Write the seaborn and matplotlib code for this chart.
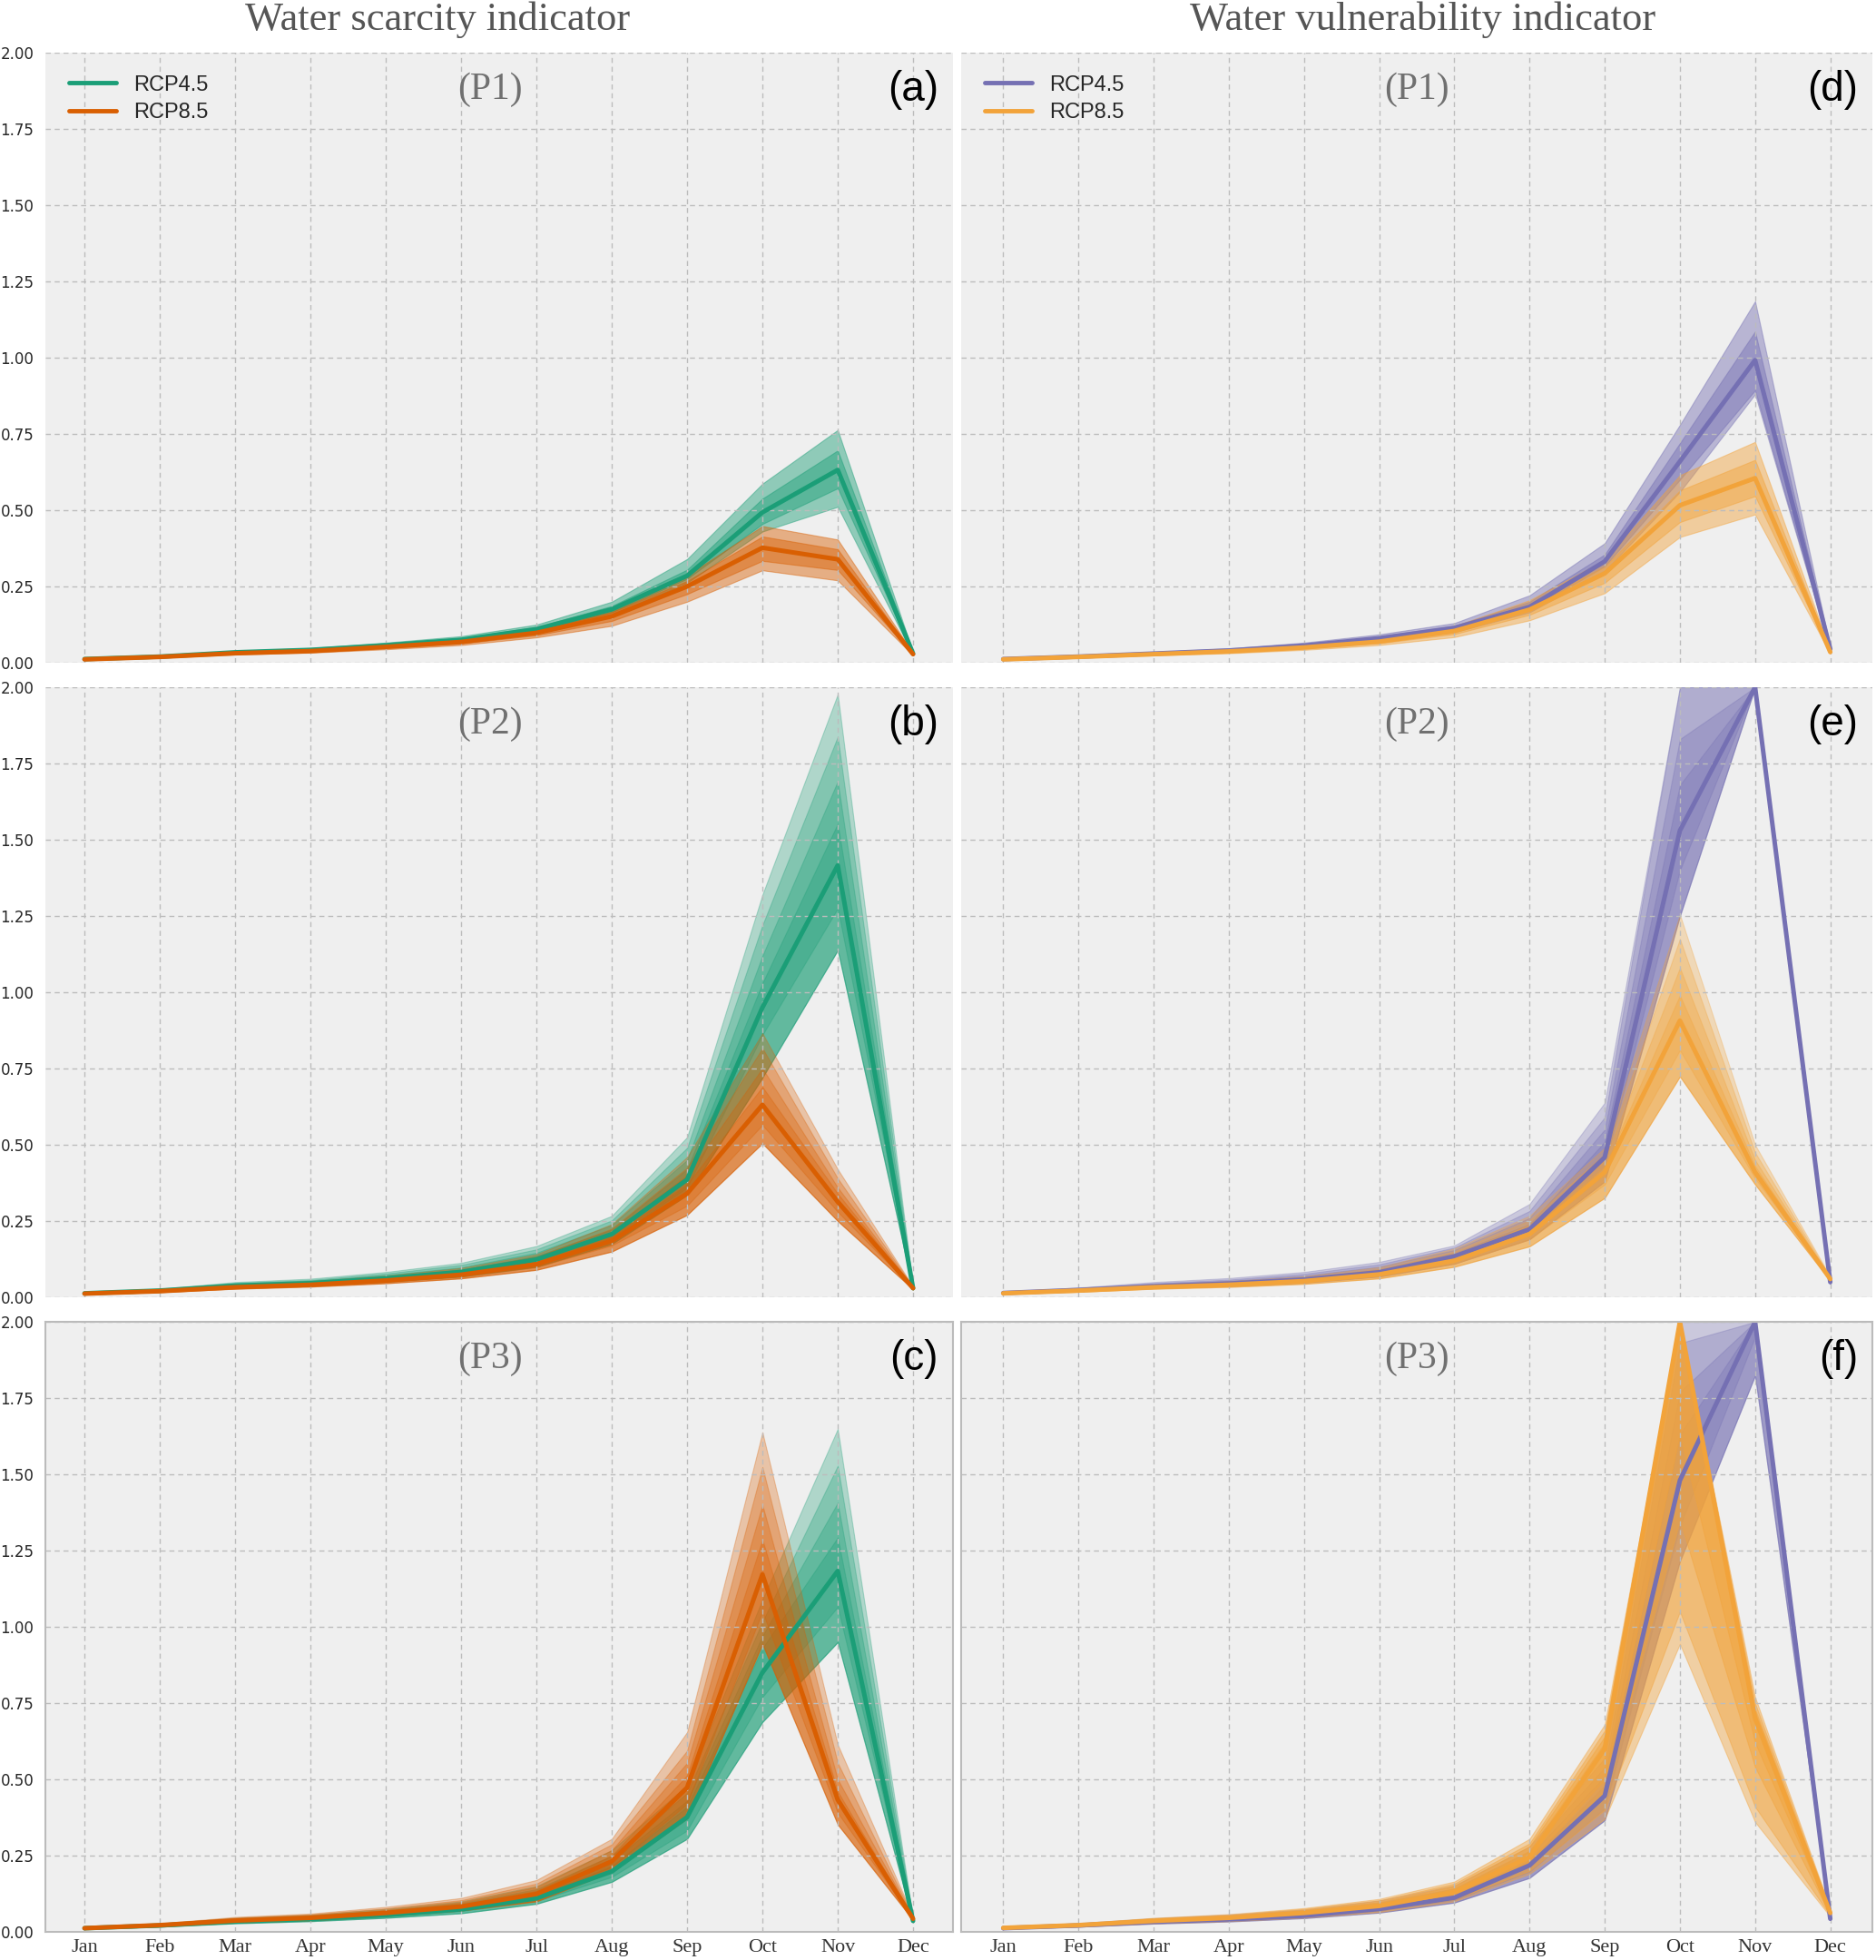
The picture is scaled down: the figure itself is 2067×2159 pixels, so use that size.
import numpy as np
import pandas as pd
import matplotlib
matplotlib.use('Agg')
import matplotlib.pyplot as plt
import seaborn as sns

months = ['Jan', 'Feb', 'Mar', 'Apr', 'May', 'Jun', 'Jul', 'Aug', 'Sep', 'Oct', 'Nov', 'Dec']
scenarios = ['RCP4.5', 'RCP8.5']

#-------------------- (a) scarcity, P1 --------------------
a45_med = [0.012, 0.020, 0.034, 0.042, 0.057, 0.075, 0.110, 0.175, 0.285, 0.493, 0.632, 0.030]
a45_lo = [[0.010, 0.018, 0.030, 0.037, 0.050, 0.066, 0.097, 0.155, 0.262, 0.430, 0.511, 0.026],
          [0.011, 0.019, 0.032, 0.040, 0.053, 0.071, 0.104, 0.166, 0.275, 0.455, 0.572, 0.028]]
a45_hi = [[0.014, 0.023, 0.039, 0.048, 0.066, 0.087, 0.125, 0.200, 0.340, 0.587, 0.763, 0.034],
          [0.013, 0.021, 0.036, 0.045, 0.061, 0.081, 0.117, 0.186, 0.305, 0.538, 0.696, 0.032]]
a85_med = [0.011, 0.019, 0.031, 0.038, 0.052, 0.068, 0.098, 0.152, 0.250, 0.377, 0.339, 0.028]
a85_lo = [[0.009, 0.016, 0.027, 0.033, 0.044, 0.058, 0.083, 0.121, 0.200, 0.303, 0.270, 0.024],
          [0.010, 0.018, 0.029, 0.036, 0.048, 0.063, 0.090, 0.137, 0.225, 0.334, 0.304, 0.026]]
a85_hi = [[0.013, 0.022, 0.036, 0.044, 0.060, 0.079, 0.115, 0.180, 0.286, 0.448, 0.404, 0.032],
          [0.012, 0.020, 0.033, 0.041, 0.056, 0.073, 0.106, 0.166, 0.268, 0.414, 0.372, 0.030]]

#-------------------- (b) scarcity, P2 --------------------
b45_med = [0.013, 0.022, 0.038, 0.046, 0.062, 0.083, 0.124, 0.207, 0.386, 0.950, 1.416, 0.030]
b45_lo_in = [0.012, 0.020, 0.034, 0.042, 0.056, 0.075, 0.112, 0.190, 0.360, 0.860, 1.275, 0.028]
b45_lo_out = [0.011, 0.018, 0.031, 0.038, 0.051, 0.068, 0.100, 0.175, 0.335, 0.720, 1.138, 0.026]
b45_hi = [[0.017, 0.028, 0.050, 0.061, 0.083, 0.113, 0.168, 0.267, 0.525, 1.320, 1.977, 0.035],
          [0.016, 0.027, 0.047, 0.057, 0.078, 0.106, 0.157, 0.252, 0.490, 1.220, 1.838, 0.034],
          [0.015, 0.025, 0.044, 0.054, 0.073, 0.098, 0.146, 0.237, 0.450, 1.120, 1.692, 0.033],
          [0.014, 0.024, 0.041, 0.050, 0.068, 0.091, 0.135, 0.222, 0.420, 1.030, 1.553, 0.032]]
b85_med = [0.012, 0.020, 0.033, 0.041, 0.055, 0.074, 0.108, 0.185, 0.340, 0.631, 0.313, 0.030]
b85_lo_in = [0.011, 0.019, 0.031, 0.038, 0.051, 0.068, 0.099, 0.170, 0.300, 0.565, 0.280, 0.028]
b85_lo_out = [0.010, 0.017, 0.028, 0.035, 0.046, 0.062, 0.090, 0.150, 0.270, 0.505, 0.250, 0.026]
b85_hi = [[0.016, 0.025, 0.042, 0.053, 0.071, 0.096, 0.141, 0.240, 0.460, 0.866, 0.420, 0.035],
          [0.015, 0.024, 0.040, 0.050, 0.067, 0.090, 0.133, 0.225, 0.425, 0.817, 0.390, 0.034],
          [0.014, 0.023, 0.038, 0.047, 0.063, 0.085, 0.125, 0.212, 0.400, 0.751, 0.360, 0.033],
          [0.013, 0.022, 0.036, 0.044, 0.059, 0.080, 0.117, 0.200, 0.370, 0.690, 0.340, 0.032]]

#-------------------- (c) scarcity, P3 --------------------
c45_med = [0.012, 0.021, 0.034, 0.042, 0.055, 0.074, 0.110, 0.198, 0.376, 0.850, 1.183, 0.036]
c45_lo_in = [0.011, 0.019, 0.031, 0.039, 0.051, 0.068, 0.101, 0.180, 0.332, 0.770, 1.065, 0.034]
c45_lo_out = [0.010, 0.017, 0.028, 0.035, 0.046, 0.061, 0.092, 0.164, 0.305, 0.688, 0.950, 0.032]
c45_hi = [[0.016, 0.027, 0.046, 0.056, 0.075, 0.100, 0.150, 0.268, 0.480, 1.090, 1.649, 0.044],
          [0.015, 0.026, 0.043, 0.053, 0.070, 0.094, 0.140, 0.250, 0.455, 1.017, 1.528, 0.042],
          [0.014, 0.024, 0.040, 0.049, 0.065, 0.087, 0.130, 0.232, 0.430, 0.970, 1.407, 0.040],
          [0.013, 0.023, 0.037, 0.046, 0.060, 0.081, 0.120, 0.215, 0.410, 0.930, 1.293, 0.038]]
c85_med = [0.012, 0.022, 0.037, 0.046, 0.062, 0.083, 0.124, 0.231, 0.473, 1.172, 0.433, 0.043]
c85_lo_in = [0.011, 0.020, 0.034, 0.042, 0.057, 0.076, 0.112, 0.213, 0.420, 1.050, 0.390, 0.041]
c85_lo_out = [0.010, 0.018, 0.031, 0.038, 0.052, 0.070, 0.100, 0.198, 0.372, 0.944, 0.352, 0.039]
c85_hi = [[0.016, 0.028, 0.049, 0.060, 0.082, 0.111, 0.170, 0.305, 0.655, 1.638, 0.614, 0.051],
          [0.015, 0.027, 0.046, 0.057, 0.077, 0.104, 0.158, 0.287, 0.594, 1.524, 0.554, 0.049],
          [0.014, 0.025, 0.043, 0.053, 0.072, 0.097, 0.147, 0.268, 0.554, 1.400, 0.500, 0.047],
          [0.013, 0.024, 0.040, 0.050, 0.067, 0.090, 0.135, 0.250, 0.513, 1.286, 0.460, 0.045]]

#-------------------- (d) vulnerability, P1 --------------------
d45_med = [0.012, 0.020, 0.030, 0.040, 0.056, 0.080, 0.114, 0.183, 0.332, 0.660, 0.992, 0.045]
d45_lo = [[0.010, 0.017, 0.026, 0.035, 0.048, 0.070, 0.100, 0.165, 0.300, 0.560, 0.880, 0.040],
          [0.011, 0.019, 0.028, 0.038, 0.052, 0.075, 0.107, 0.174, 0.316, 0.600, 0.893, 0.042]]
d45_hi = [[0.014, 0.023, 0.035, 0.047, 0.066, 0.093, 0.130, 0.221, 0.392, 0.780, 1.185, 0.050],
          [0.013, 0.021, 0.032, 0.043, 0.060, 0.086, 0.121, 0.200, 0.355, 0.720, 1.086, 0.048]]
d85_med = [0.011, 0.019, 0.028, 0.037, 0.050, 0.069, 0.104, 0.174, 0.293, 0.516, 0.605, 0.035]
d85_lo = [[0.009, 0.016, 0.024, 0.031, 0.042, 0.058, 0.084, 0.139, 0.228, 0.412, 0.486, 0.030],
          [0.010, 0.018, 0.026, 0.034, 0.046, 0.064, 0.094, 0.157, 0.262, 0.461, 0.546, 0.032]]
d85_hi = [[0.013, 0.022, 0.032, 0.042, 0.057, 0.080, 0.120, 0.205, 0.337, 0.615, 0.724, 0.040],
          [0.012, 0.020, 0.030, 0.040, 0.054, 0.074, 0.112, 0.190, 0.315, 0.565, 0.665, 0.038]]

#-------------------- (e) vulnerability, P2 --------------------
e45_med = [0.014, 0.024, 0.036, 0.045, 0.058, 0.082, 0.134, 0.223, 0.459, 1.530, 2.000, 0.050]
e45_lo_in = [0.013, 0.022, 0.033, 0.041, 0.053, 0.075, 0.122, 0.205, 0.430, 1.400, 2.000, 0.047]
e45_lo_out = [0.012, 0.020, 0.030, 0.037, 0.048, 0.068, 0.110, 0.190, 0.380, 1.250, 2.000, 0.044]
e45_hi = [[0.018, 0.032, 0.050, 0.063, 0.083, 0.116, 0.170, 0.306, 0.638, 2.000, 2.000, 0.060],
          [0.017, 0.030, 0.046, 0.058, 0.077, 0.108, 0.163, 0.283, 0.590, 2.000, 2.000, 0.057],
          [0.016, 0.028, 0.043, 0.054, 0.071, 0.100, 0.155, 0.260, 0.550, 1.830, 2.000, 0.055],
          [0.015, 0.026, 0.040, 0.050, 0.065, 0.092, 0.145, 0.240, 0.510, 1.680, 2.000, 0.053]]
e85_med = [0.013, 0.022, 0.033, 0.041, 0.053, 0.075, 0.120, 0.207, 0.410, 0.907, 0.410, 0.060]
e85_lo_in = [0.012, 0.020, 0.031, 0.038, 0.049, 0.069, 0.110, 0.190, 0.370, 0.810, 0.390, 0.057]
e85_lo_out = [0.011, 0.018, 0.028, 0.034, 0.044, 0.062, 0.100, 0.167, 0.326, 0.724, 0.370, 0.054]
e85_hi = [[0.017, 0.027, 0.041, 0.053, 0.069, 0.099, 0.160, 0.267, 0.490, 1.255, 0.500, 0.068],
          [0.016, 0.026, 0.039, 0.050, 0.065, 0.093, 0.150, 0.252, 0.470, 1.175, 0.475, 0.066],
          [0.015, 0.025, 0.037, 0.047, 0.061, 0.087, 0.140, 0.237, 0.450, 1.080, 0.450, 0.064],
          [0.014, 0.024, 0.035, 0.044, 0.057, 0.081, 0.130, 0.222, 0.430, 0.990, 0.430, 0.062]]

#-------------------- (f) vulnerability, P3 --------------------
f45_med = [0.012, 0.021, 0.033, 0.041, 0.053, 0.075, 0.112, 0.218, 0.446, 1.480, 2.000, 0.043]
f45_lo_in = [0.011, 0.019, 0.030, 0.038, 0.049, 0.069, 0.104, 0.197, 0.405, 1.330, 1.950, 0.041]
f45_lo_out = [0.010, 0.017, 0.027, 0.034, 0.045, 0.063, 0.096, 0.177, 0.366, 1.215, 1.824, 0.039]
f45_hi = [[0.016, 0.029, 0.045, 0.057, 0.073, 0.103, 0.152, 0.280, 0.570, 2.000, 2.000, 0.051],
          [0.015, 0.027, 0.042, 0.053, 0.068, 0.096, 0.142, 0.265, 0.540, 1.930, 2.000, 0.049],
          [0.014, 0.025, 0.039, 0.049, 0.063, 0.089, 0.132, 0.250, 0.510, 1.770, 2.000, 0.047],
          [0.013, 0.023, 0.036, 0.045, 0.058, 0.082, 0.122, 0.235, 0.480, 1.630, 2.000, 0.045]]
f85_med = [0.013, 0.022, 0.036, 0.046, 0.062, 0.085, 0.130, 0.245, 0.600, 2.000, 0.700, 0.062]
f85_lo = [[0.010, 0.017, 0.028, 0.035, 0.047, 0.065, 0.100, 0.190, 0.370, 0.944, 0.360, 0.050],
          [0.011, 0.018, 0.030, 0.038, 0.051, 0.070, 0.107, 0.200, 0.400, 1.050, 0.410, 0.053],
          [0.012, 0.020, 0.032, 0.041, 0.055, 0.075, 0.115, 0.215, 0.450, 1.350, 0.540, 0.056],
          [0.012, 0.021, 0.034, 0.043, 0.058, 0.080, 0.122, 0.230, 0.500, 1.630, 0.620, 0.059]]
f85_hi = [[0.017, 0.028, 0.046, 0.058, 0.078, 0.108, 0.165, 0.305, 0.680, 2.000, 0.770, 0.075],
          [0.016, 0.027, 0.044, 0.055, 0.075, 0.103, 0.158, 0.290, 0.660, 2.000, 0.750, 0.072],
          [0.015, 0.026, 0.042, 0.053, 0.071, 0.098, 0.150, 0.280, 0.640, 2.000, 0.730, 0.070],
          [0.014, 0.024, 0.040, 0.050, 0.068, 0.093, 0.142, 0.265, 0.620, 2.000, 0.720, 0.067]]

green, red = '#1b9e77', '#d95f02'
purple, orange = '#7570b3', '#f2a33a'

panels = [
    dict(col=0, row=0, tag='(a)', period='(P1)', colors=[green, red], alpha=[0.45, 0.45],
         med=[a45_med, a85_med], lo=[a45_lo, a85_lo], hi=[a45_hi, a85_hi]),
    dict(col=0, row=1, tag='(b)', period='(P2)', colors=[green, red], alpha=[0.3, 0.3],
         med=[b45_med, b85_med],
         lo=[[b45_lo_out] * 3 + [b45_lo_in], [b85_lo_out] * 3 + [b85_lo_in]],
         hi=[b45_hi, b85_hi]),
    dict(col=0, row=2, tag='(c)', period='(P3)', colors=[green, red], alpha=[0.3, 0.3],
         med=[c45_med, c85_med],
         lo=[[c45_lo_out] * 3 + [c45_lo_in], [c85_lo_out] * 3 + [c85_lo_in]],
         hi=[c45_hi, c85_hi]),
    dict(col=1, row=0, tag='(d)', period='(P1)', colors=[purple, orange], alpha=[0.45, 0.45],
         med=[d45_med, d85_med], lo=[d45_lo, d85_lo], hi=[d45_hi, d85_hi]),
    dict(col=1, row=1, tag='(e)', period='(P2)', colors=[purple, orange], alpha=[0.3, 0.3],
         med=[e45_med, e85_med],
         lo=[[e45_lo_out] * 3 + [e45_lo_in], [e85_lo_out] * 3 + [e85_lo_in]],
         hi=[e45_hi, e85_hi]),
    dict(col=1, row=2, tag='(f)', period='(P3)', colors=[purple, orange], alpha=[0.3, 0.42],
         med=[f45_med, f85_med],
         lo=[[f45_lo_out] * 3 + [f45_lo_in], f85_lo],
         hi=[f45_hi, f85_hi]),
]

sns.set_style('whitegrid', {'axes.facecolor': '#efefef', 'grid.color': '#bcbcbc'})
plt.rcParams['font.family'] = ['DejaVu Sans']

W, H = 2067, 2159
fig = plt.figure(figsize=(W / 100, H / 100), dpi=100)

col_x = [(50, 1000, -0.52, 11.53), (1059, 1004, -0.56, 11.56)]
row_y = [58, 757, 1456]
ax_h = 672

x = np.arange(12)
for p in panels:
    left, width, x0, x1 = col_x[p['col']]
    top = row_y[p['row']]
    ax = fig.add_axes([left / W, 1 - (top + ax_h) / H, width / W, ax_h / H])

    for c, a, lo_list, hi_list in zip(p['colors'], p['alpha'], p['lo'], p['hi']):
        for lo, hi in zip(lo_list, hi_list):
            ax.fill_between(x, lo, hi, color=c, alpha=a, lw=0.8)

    df = pd.DataFrame({
        'month': np.tile(x, 2),
        'value': np.concatenate(p['med']),
        'scenario': np.repeat(scenarios, 12),
    })
    sns.lineplot(data=df, x='month', y='value', hue='scenario', hue_order=scenarios,
                 palette=p['colors'], lw=3.6, ax=ax, legend=(p['row'] == 0))

    ax.set_xlim(x0, x1)
    ax.set_ylim(0, 2)
    ax.set_xticks(x)
    ax.set_yticks(np.arange(0, 2.01, 0.25))
    ax.set_xlabel('')
    ax.set_ylabel('')
    ax.grid(True, ls=(0, (4, 3)), color='#bcbcbc', lw=1.0)
    ax.set_axisbelow('line')
    ax.tick_params(length=0)

    if p['col'] == 0:
        ax.set_yticklabels([f'{v:.2f}' for v in np.arange(0, 2.01, 0.25)], fontsize=12)
        ax.tick_params(axis='y', pad=9)
    else:
        ax.tick_params(labelleft=False)

    if p['row'] == 2:
        ax.set_xticklabels(months, fontsize=16, color='#333333', family='Liberation Serif')
        ax.tick_params(axis='x', pad=6)
        for s in ax.spines.values():
            s.set_visible(True)
            s.set_color('#bbbbbb')
            s.set_linewidth(1.5)
    else:
        ax.tick_params(labelbottom=False)
        for s in ax.spines.values():
            s.set_visible(False)

    if p['row'] == 0:
        leg = ax.legend(loc='upper left', bbox_to_anchor=(0.005, 0.995), frameon=False,
                        prop={'family': 'Liberation Sans', 'size': 17},
                        handlelength=2.2, labelspacing=0.35)
        for h in leg.get_lines():
            h.set_linewidth(3.5)

    px = 0.49 if p['col'] == 0 else 0.50
    ax.text(px, 0.939, p['period'], transform=ax.transAxes, ha='center', va='center',
            fontsize=30, color='#707070', family='Liberation Serif')
    ax.text(0.984, 0.939, p['tag'], transform=ax.transAxes, ha='right', va='center',
            fontsize=33, color='black', family='Liberation Sans')

fig.text(482 / W, 1 - 33 / H, 'Water scarcity indicator', ha='center', va='baseline',
         fontsize=32, color='#555555', family='Liberation Serif')
fig.text(1568 / W, 1 - 33 / H, 'Water vulnerability indicator', ha='center', va='baseline',
         fontsize=32, color='#555555', family='Liberation Serif')

fig.savefig('out.png', dpi=100)
